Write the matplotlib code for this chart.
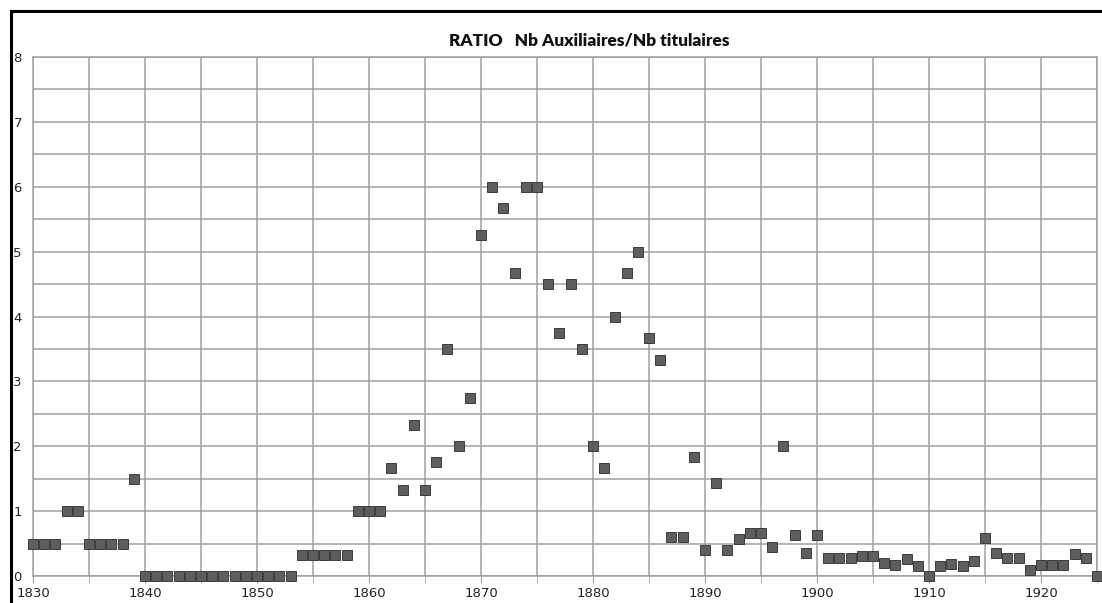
import matplotlib
matplotlib.use("Agg")
import matplotlib.pyplot as plt
from matplotlib.lines import Line2D
from matplotlib.ticker import MultipleLocator

years = list(range(1830, 1926))
ratio = [
    0.5, 0.5, 0.5, 1.0, 1.0, 0.5, 0.5, 0.5, 0.5, 1.5,          # 1830-1839
    0, 0, 0, 0, 0, 0, 0, 0, 0, 0,                              # 1840-1849
    0, 0, 0, 0, 0.33, 0.33, 0.33, 0.33, 0.33, 1.0,             # 1850-1859
    1.0, 1.0, 1.67, 1.33, 2.33, 1.33, 1.75, 3.5, 2.0, 2.75,    # 1860-1869
    5.25, 6.0, 5.67, 4.67, 6.0, 6.0, 4.5, 3.75, 4.5, 3.5,      # 1870-1879
    2.0, 1.67, 4.0, 4.67, 5.0, 3.67, 3.33, 0.6, 0.6, 1.83,     # 1880-1889
    0.4, 1.43, 0.4, 0.57, 0.67, 0.67, 0.44, 2.0, 0.63, 0.36,   # 1890-1899
    0.63, 0.27, 0.27, 0.27, 0.31, 0.31, 0.2, 0.17, 0.26, 0.16, # 1900-1909
    0.0, 0.16, 0.18, 0.16, 0.23, 0.59, 0.36, 0.27, 0.27, 0.1,  # 1910-1919
    0.17, 0.17, 0.17, 0.34, 0.27, 0.0,                         # 1920-1925
]
title = "RATIO   Nb Auxiliaires/Nb titulaires"

W, H = 1102, 603
fig = plt.figure(figsize=(W / 100, H / 100), dpi=100)
ax = fig.add_axes([33 / W, 1 - 576 / H, (1097 - 33) / W, (576 - 57) / H])

ax.plot(years, ratio, linestyle="none", marker="s", markersize=6.6,
        markerfacecolor="#5e5e5e", markeredgecolor="#3c3c3c",
        markeredgewidth=0.7, clip_on=False, zorder=3)

ax.set_xlim(1830, 1925)
ax.set_ylim(0, 8)
ax.xaxis.set_major_locator(MultipleLocator(10))
ax.xaxis.set_minor_locator(MultipleLocator(5))
ax.yaxis.set_major_locator(MultipleLocator(1))
ax.yaxis.set_minor_locator(MultipleLocator(0.5))

grid_kw = dict(color="#a0a0a0", linewidth=1.1)
ax.grid(True, which="both", **grid_kw)
ax.set_axisbelow(True)
for side in ax.spines.values():
    side.set_color("#a0a0a0")
    side.set_linewidth(1.1)

ax.tick_params(axis="x", which="both", length=5, color="#a0a0a0",
               labelsize=9.5, pad=3, labelcolor="#222222")
ax.tick_params(axis="y", which="both", length=0, labelsize=9.5, pad=8,
               labelcolor="#222222")

fig.text(589 / W, 1 - 40 / H, title, ha="center", va="center",
         fontsize=12.4, fontweight="heavy", family=["Lato", "DejaVu Sans"],
         color="#111111")

# outer frame along the top and left edges
fig.add_artist(Line2D([10.5 / W, 10.5 / W], [0, 1 - 11 / H],
                      transform=fig.transFigure, color="black", linewidth=2.2))
fig.add_artist(Line2D([10.5 / W, 1.0], [1 - 11 / H, 1 - 11 / H],
                      transform=fig.transFigure, color="black", linewidth=2.2))

fig.savefig("out.png", dpi=100)
